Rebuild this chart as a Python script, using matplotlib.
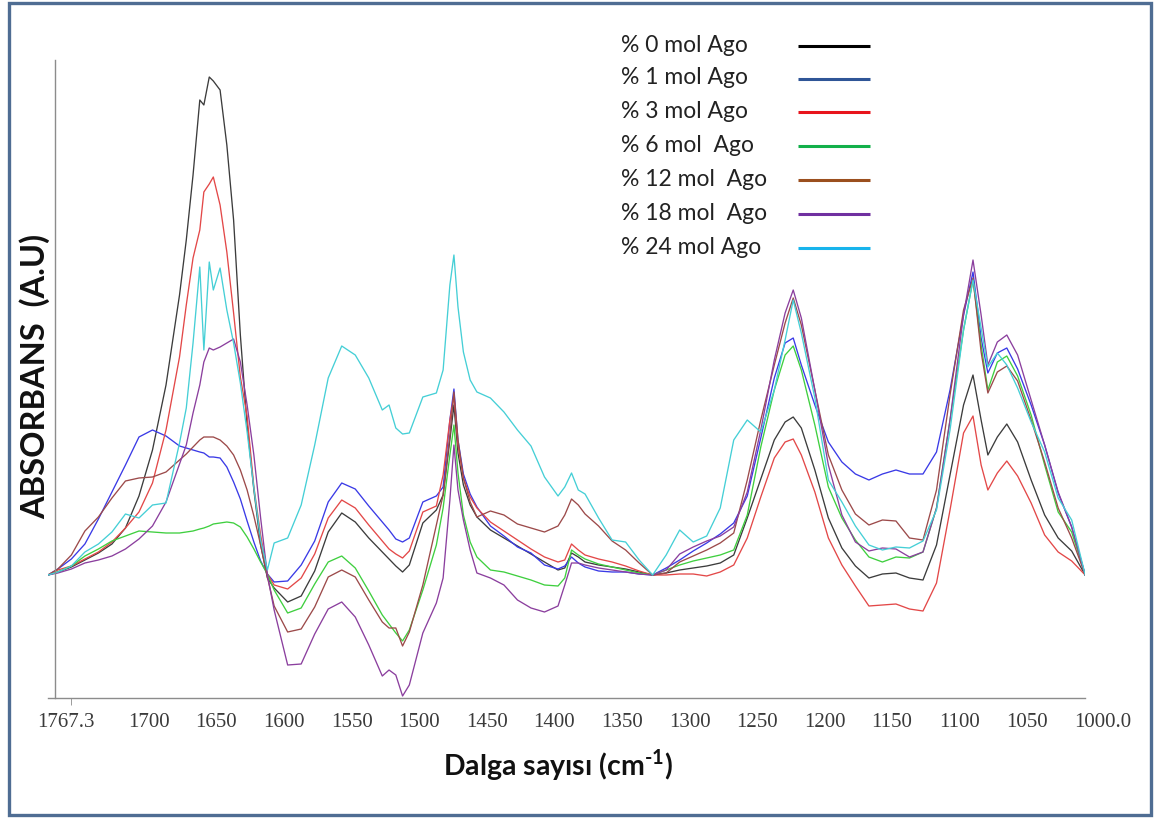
import matplotlib.pyplot as plt
from matplotlib.transforms import ScaledTranslation
from matplotlib.patches import Rectangle

plt.rcParams['mathtext.fontset'] = 'custom'
plt.rcParams['mathtext.rm'] = 'Lato:bold'
plt.rcParams['mathtext.bf'] = 'Lato:bold'

# common wavenumber grid (cm-1)
wavenumber = [1767.3, 1760, 1750, 1740, 1730, 1720, 1710, 1700, 1690, 1680,
              1670, 1665, 1660, 1655, 1652, 1648, 1645, 1640, 1635, 1630,
              1625, 1620, 1615, 1610, 1605, 1600, 1590, 1580, 1570, 1560,
              1550, 1540, 1530, 1520, 1515, 1510, 1505, 1500, 1490, 1480,
              1475, 1470, 1467, 1464, 1460, 1455, 1450, 1440, 1430, 1420,
              1410, 1400, 1390, 1385, 1380, 1375, 1370, 1360, 1350, 1340,
              1330, 1320, 1310, 1300, 1290, 1280, 1270, 1260, 1250, 1240,
              1230, 1222, 1216, 1210, 1200, 1190, 1180, 1170, 1160, 1150,
              1140, 1130, 1120, 1110, 1100, 1090, 1083, 1077, 1072, 1065,
              1058, 1050, 1040, 1030, 1020, 1010, 1000]

# baseline-corrected absorbance (x1000, arbitrary units)
ago_0 = [0, 6, 16, 30, 44, 62, 94, 158, 250, 380,
         560, 670, 800, 950, 940, 996, 988, 970, 860, 710,
         480, 300, 170, 60, -6, -26, -54, -42, 8, 86,
         124, 106, 74, 46, 32, 18, 6, 20, 104, 130,
         160, 270, 340, 244, 180, 140, 116, 90, 74, 58,
         42, 26, 10, 14, 44, 36, 26, 20, 16, 12,
         6, 0, 4, 10, 14, 18, 24, 40, 114, 192,
         270, 306, 316, 294, 210, 114, 54, 18, -6, 2,
         4, -6, -10, 60, 200, 340, 400, 310, 240, 276,
         302, 266, 190, 120, 74, 48, 0]
ago_1 = [0, 12, 32, 62, 112, 166, 220, 276, 290, 278,
         258, 254, 250, 246, 244, 236, 236, 234, 216, 186,
         152, 108, 66, 28, 2, -14, -12, 20, 68, 146,
         184, 172, 138, 106, 90, 72, 66, 74, 146, 158,
         176, 310, 372, 270, 202, 162, 136, 98, 78, 56,
         44, 20, 12, 18, 36, 24, 16, 8, 6, 6,
         2, 0, 14, 30, 48, 64, 82, 104, 158, 274,
         394, 464, 474, 420, 340, 266, 226, 202, 190, 202,
         210, 202, 202, 246, 370, 520, 606, 474, 404, 444,
         454, 412, 340, 260, 164, 96, 0]
ago_3 = [0, 10, 18, 32, 46, 66, 94, 126, 184, 290,
         436, 540, 634, 690, 766, 782, 796, 740, 646, 524,
         396, 318, 176, 80, 2, -20, -28, -6, 42, 114,
         150, 134, 100, 68, 52, 42, 34, 48, 126, 138,
         200, 310, 358, 260, 194, 156, 134, 106, 88, 70,
         52, 36, 26, 30, 62, 50, 40, 32, 26, 18,
         8, 0, 0, 2, 2, -2, 6, 20, 74, 156,
         234, 266, 272, 240, 166, 74, 20, -22, -62, -60,
         -58, -68, -72, -16, 130, 284, 318, 220, 170, 204,
         228, 198, 144, 80, 46, 28, 0]
ago_6 = [0, 6, 18, 38, 52, 68, 78, 88, 86, 84,
         84, 86, 88, 92, 94, 98, 102, 104, 106, 104,
         96, 76, 52, 26, 2, -30, -76, -66, -18, 26,
         38, 14, -32, -80, -98, -116, -132, -110, -30, 60,
         134, 240, 300, 204, 120, 66, 36, 10, 6, -2,
         -10, -20, -22, -6, 50, 40, 32, 22, 16, 10,
         4, 0, 10, 20, 28, 34, 40, 50, 120, 256,
         370, 440, 458, 410, 300, 176, 114, 70, 36, 26,
         36, 34, 46, 134, 310, 490, 590, 460, 370, 426,
         438, 398, 320, 220, 126, 86, 0]
ago_12 = [0, 12, 40, 88, 116, 154, 188, 194, 196, 206,
          230, 242, 256, 270, 276, 276, 276, 270, 258, 240,
          210, 170, 118, 60, -4, -62, -114, -108, -64, -4,
          10, -4, -50, -94, -106, -106, -142, -114, -20, 100,
          160, 280, 366, 270, 194, 146, 116, 128, 120, 102,
          94, 86, 98, 120, 152, 140, 122, 98, 68, 50,
          24, 0, 4, 26, 38, 50, 64, 84, 190, 310,
          420, 504, 554, 500, 370, 240, 170, 122, 100, 110,
          108, 74, 70, 170, 360, 530, 594, 446, 364, 406,
          418, 388, 310, 226, 134, 74, 0]
ago_18 = [0, 4, 12, 24, 30, 38, 52, 72, 98, 146,
          222, 260, 324, 380, 426, 454, 450, 456, 464, 472,
          426, 340, 240, 114, 0, -70, -180, -178, -118, -68,
          -54, -84, -140, -202, -190, -200, -242, -220, -116, -56,
          -6, 150, 260, 170, 110, 50, 4, -6, -20, -50,
          -66, -74, -62, -20, 24, 24, 20, 14, 10, 6,
          2, 0, 10, 42, 56, 68, 78, 96, 166, 290,
          430, 524, 570, 514, 370, 220, 120, 66, 48, 54,
          52, 36, 46, 134, 310, 520, 630, 520, 420, 466,
          480, 440, 350, 260, 166, 96, 0]
ago_24 = [0, 6, 18, 46, 62, 86, 122, 114, 140, 144,
          264, 334, 464, 616, 450, 626, 570, 614, 530, 464,
          384, 286, 174, 70, 10, 64, 74, 140, 260, 394,
          458, 440, 394, 330, 340, 294, 282, 284, 356, 364,
          410, 580, 640, 536, 446, 390, 366, 354, 326, 290,
          258, 196, 158, 176, 204, 170, 162, 114, 70, 66,
          30, 0, 40, 90, 66, 78, 134, 270, 310, 286,
          370, 470, 550, 484, 354, 190, 146, 98, 60, 50,
          56, 54, 68, 130, 290, 490, 590, 494, 416, 444,
          420, 374, 306, 246, 154, 110, 0]

series = [ago_0, ago_1, ago_3, ago_6, ago_12, ago_18, ago_24]
names = ['% 0 mol Ago', '% 1 mol Ago', '% 3 mol Ago', '% 6 mol  Ago',
         '% 12 mol  Ago', '% 18 mol  Ago', '% 24 mol Ago']
line_colors = ['#3c3c3c', '#3a3ae6', '#e34848', '#3fcf3f',
               '#9c4a4a', '#8b3f9e', '#45cfd6']
key_colors = ['#000000', '#2f5597', '#e8141c', '#12b04a',
              '#9b4f1e', '#7030a0', '#18b4ec']

tick_values = [1767.3, 1700, 1650, 1600, 1550, 1500, 1450, 1400,
               1350, 1300, 1250, 1200, 1150, 1100, 1050, 1000]
tick_labels = ['1767.3', '1700', '1650', '1600', '1550', '1500', '1450', '1400',
               '1350', '1300', '1250', '1200', '1150', '1100', '1050', '1000.0']

W, H = 1157, 821
fig = plt.figure(figsize=(W / 100, H / 100), dpi=100)
ax = fig.add_axes([48 / W, 1 - 698 / H, 1037.2 / W, 638 / H])

for y, c in zip(series, line_colors):
    ax.plot(wavenumber, y, color=c, lw=0.95)

ax.set_xlim(1767.3, 1000)
ax.set_ylim(-246, 1030)
ax.set_yticks([])
for s in ['top', 'right']:
    ax.spines[s].set_visible(False)
for s in ['left', 'bottom']:
    ax.spines[s].set_color('#8c8c8c')
    ax.spines[s].set_linewidth(1.0)
ax.spines['left'].set_position(('outward', -5))

ax.set_xticks(tick_values, tick_labels)
ax.set_xticks(list(range(1750, 999, -50)), minor=True)
ax.tick_params(axis='x', which='major', length=0, pad=11, labelsize=15,
               labelcolor='#3a3a3a', labelfontfamily='Liberation Serif')
ax.tick_params(axis='x', which='minor', length=5, direction='out', color='#8c8c8c')
shift = ScaledTranslation(-0.11, 0, fig.dpi_scale_trans)
for lab in ax.get_xticklabels():
    lab.set_horizontalalignment('left')
    lab.set_transform(lab.get_transform() + shift)

fig.text(35 / W, 1 - 376 / H, 'ABSORBANS  (A.U)', rotation=90, ha='center', va='center',
         fontsize=23.5, fontweight='bold', family='Lato', color='#111111')
fig.text(558 / W, 1 - 765 / H, r'Dalga sayısı (cm$^{\text{-1}}$)', ha='center', va='center',
         fontsize=20.5, fontweight='bold', family='Lato', color='#111111')

# legend and frame drawn in figure pixel coordinates
deco = fig.add_axes([0, 0, 1, 1])
deco.set_xlim(0, W)
deco.set_ylim(H, 0)
deco.axis('off')
rows = [45, 78, 111, 145, 179, 213, 247]
for name, c, yy in zip(names, key_colors, rows):
    deco.text(621, yy, name, ha='left', va='center', fontsize=16.5, family='Lato', color='#222222')
    deco.plot([798, 870], [yy + 1, yy + 1], color=c, lw=2.2, solid_capstyle='butt')
deco.add_patch(Rectangle((8.5, 3), 1142, 812, fill=False, edgecolor='#4f6d93', lw=2.4))

fig.savefig('out.png', dpi=100)
